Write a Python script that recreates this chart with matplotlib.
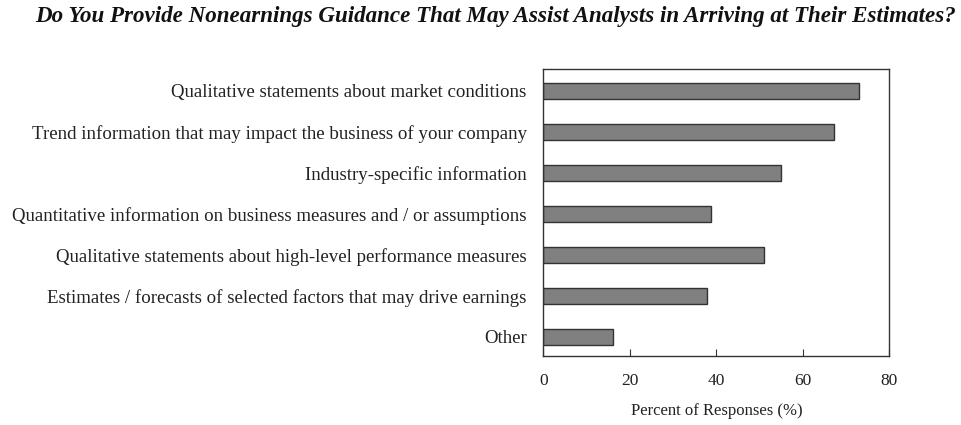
import matplotlib
matplotlib.use("Agg")
import matplotlib.pyplot as plt

categories = [
    "Qualitative statements about market conditions",
    "Trend information that may impact the business of your company",
    "Industry-specific information",
    "Quantitative information on business measures and / or assumptions",
    "Qualitative statements about high-level performance measures",
    "Estimates / forecasts of selected factors that may drive earnings",
    "Other",
]
values = [73.0, 67.1, 54.9, 38.7, 51.0, 37.8, 16.0]
xticks = [0, 20, 40, 60, 80]

plt.rcParams['font.family'] = ['Liberation Serif', 'DejaVu Serif']

fig = plt.figure(figsize=(9.61, 4.25), dpi=100)
ax = fig.add_axes([0.5654, 0.1624, 0.36, 0.6746])

pos = list(range(len(categories)))[::-1]
ax.barh(pos, values, height=0.38, color="#808080", edgecolor="#333333", linewidth=1.0)

ax.set_xlim(0, 80)
ax.set_ylim(-0.47, 6.53)
ax.set_yticks(pos)
ax.set_yticklabels(categories, fontsize=13.6, color="#222222")
ax.tick_params(axis="y", length=0, pad=12)
ax.set_xticks(xticks)
ax.set_xticklabels([str(t) for t in xticks], fontsize=12.5, color="#222222")
ax.tick_params(axis="x", direction="in", length=5, pad=12, color="#333333")
ax.set_xlabel("Percent of Responses (%)", fontsize=12, color="#222222", labelpad=10)
for s in ax.spines.values():
    s.set_color("#333333")
    s.set_linewidth(1.0)

fig.text(0.516, 0.962, "Do You Provide Nonearnings Guidance That May Assist Analysts in Arriving at Their Estimates?",
         ha="center", va="center", fontsize=16.6, fontweight="bold", fontstyle="italic", color="#111111")

fig.savefig("out.png", dpi=100)
